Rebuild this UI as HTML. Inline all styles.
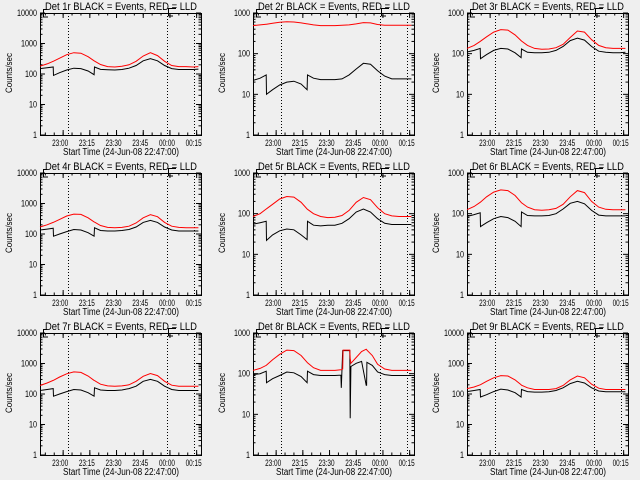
<!DOCTYPE html>
<html><head><meta charset="utf-8"><style>
html,body{margin:0;padding:0;background:#efefef;}
svg{display:block;font-family:"Liberation Sans",sans-serif;}
</style></head><body>
<svg id="c" width="640" height="480" viewBox="0 0 640 480"></svg>
<script>
const detNames = ["1r","2r","3r","4r","5r","6r","7r","8r","9r"];
const decades = [4,3,3,4,3,3,4,3,4];
const timeTicks = ["23:00","23:15","23:30","23:45","00:00","00:15"];
const timeTickMin = [13,28,43,58,73,88];
const dottedMin = [15.7,71.5,86.5];
const tStd = [0,4,7.4,7.6,11,15,19,23,27,30.4,30.6,34,38,42,46,50,54,58,62,66,70,74,78,82,86,89];
const t8 = [0,4,7.4,7.6,11,15,19,23,27,30.4,30.6,34,38,42,46,49.4,49.6,50.4,50.6,54.4,54.6,55,58,61,63.6,63.8,64,67,70,74,78,82,86,89];
const red1 = [180,215,260,262,330,430,500,480,370,270,265,205,175,170,180,200,260,390,500,400,260,190,175,175,170,175];
const blk1 = [150,160,170,90,110,135,155,150,125,95,170,142,138,135,140,155,190,270,320,270,190,150,140,140,140,145];
const red2 = [490,510,530,530,560,590,610,600,570,540,540,510,490,490,490,500,510,540,580,570,520,500,500,500,500,500];
const blk2 = [22,25,30,10,13,17,20,21,18,13,30,25,23,23,23,24,30,42,58,55,38,28,24,24,24,24];
const red3 = [135,160,200,202,260,340,390,380,290,210,205,160,135,128,130,140,170,250,360,340,220,160,140,135,135,135];
const blk3 = [110,120,135,75,95,120,135,130,105,80,130,108,105,105,108,120,150,210,240,215,150,115,108,105,105,108];
const red4 = [170,200,240,242,300,390,450,440,340,250,245,190,165,160,165,180,230,340,430,370,240,180,165,160,160,160];
const blk4 = [135,145,155,85,100,120,140,135,110,85,160,130,125,125,130,140,170,240,280,240,170,135,125,125,125,125];
const red5 = [85,100,130,132,170,230,265,255,190,130,128,100,85,80,82,90,120,190,250,220,140,100,88,85,85,85];
const blk5 = [55,60,65,22,30,38,42,40,30,23,65,52,50,52,52,58,75,110,130,110,75,58,54,54,54,54];
const red6 = [125,150,190,192,260,340,385,370,280,190,185,145,125,122,125,135,170,260,370,330,200,145,128,125,125,125];
const blk6 = [85,95,105,48,60,75,85,80,65,48,110,90,88,88,90,100,130,180,200,175,120,92,88,88,88,88];
const red7 = [190,230,280,282,360,460,530,510,390,280,275,210,185,180,185,200,260,380,470,400,260,195,180,180,180,180];
const blk7 = [130,140,150,85,100,120,140,135,110,85,160,135,130,130,135,150,180,260,300,260,180,140,130,130,130,130];
const red8 = [120,135,160,162,220,300,380,370,280,190,185,140,120,120,120,125,125,130,380,380,240,180,250,350,400,390,380,280,170,130,120,120,120,120];
const blk8 = [95,100,115,60,75,90,110,105,85,60,115,95,90,90,90,92,45,370,370,370,8,150,180,200,52,52,190,160,110,95,90,90,90,90];
const red9 = [150,170,200,202,260,340,400,390,290,200,195,160,140,140,140,150,190,290,390,340,210,155,140,140,140,140];
const blk9 = [120,130,140,80,95,120,145,135,110,80,140,120,115,115,118,130,160,220,260,230,160,125,118,118,118,118];
const reds = [red1,red2,red3,red4,red5,red6,red7,red8,red9];
const blks = [blk1,blk2,blk3,blk4,blk5,blk6,blk7,blk8,blk9];
const times = [tStd,tStd,tStd,tStd,tStd,tStd,tStd,t8,tStd];

const NS="http://www.w3.org/2000/svg";
const svg=document.getElementById('c');
function mk(tag,attrs,parent){const e=document.createElementNS(NS,tag);for(const k in attrs)e.setAttribute(k,attrs[k]);parent.appendChild(e);return e;}
const X0=40,X1=201,Y0=13,Y1=135;
function xs(m){return X0+m*1.78;}
for(let p=0;p<9;p++){
  const ox=[0,213,427][p%3], oy=Math.floor(p/3)*160;
  const g=mk('g',{transform:`translate(${ox},${oy})`},svg);
  
  
  const nd=decades[p];
  const ys=v=>Y1-(Math.log10(v)/nd)*(Y1-Y0);
  const title=mk('text',{x:45,y:10,'font-size':11,textLength:152,lengthAdjust:'spacingAndGlyphs'},g);
  title.textContent='Det '+detNames[p]+' BLACK = Events, RED = LLD';
  
  
  const frame=mk('rect',{x:X0+0.5,y:Y0+0.5,width:X1-X0,height:Y1-Y0,fill:'none',stroke:'#000','stroke-width':1},g);
  
  
  for(let d=0;d<=nd;d++){
    const y=ys(Math.pow(10,d));
    mk('line',{x1:X0,x2:X0+5,y1:y,y2:y,stroke:'#000'},g);
    mk('line',{x1:X1-5,x2:X1,y1:y,y2:y,stroke:'#000'},g);
    const s=String(Math.pow(10,d));
    const tl=mk('text',{x:37,y:y+3,'font-size':9,'text-anchor':'end',textLength:s.length*4,lengthAdjust:'spacingAndGlyphs'},g);
    tl.textContent=s;
    
    
    if(d<nd)for(let k=2;k<10;k++){const yy=ys(k*Math.pow(10,d));
      mk('line',{x1:X0,x2:X0+2.5,y1:yy,y2:yy,stroke:'#000'},g);
      mk('line',{x1:X1-2.5,x2:X1,y1:yy,y2:yy,stroke:'#000'},g);}
  }
  for(let m=3;m<=90;m+=5){const x=xs(m);
    mk('line',{x1:x,x2:x,y1:Y1,y2:Y1-2.5,stroke:'#000'},g);
    mk('line',{x1:x,x2:x,y1:Y0,y2:Y0+2.5,stroke:'#000'},g);}
  timeTicks.forEach((lab,i)=>{const x=xs(timeTickMin[i]);
    mk('line',{x1:x,x2:x,y1:Y1,y2:Y1-5,stroke:'#000'},g);
    mk('line',{x1:x,x2:x,y1:Y0,y2:Y0+5,stroke:'#000'},g);
    const tl=mk('text',{x:x-11,y:146,'font-size':9,textLength:16,lengthAdjust:'spacingAndGlyphs'},g);
    tl.textContent=lab;
    
    });
  const xt=mk('text',{x:63,y:155,'font-size':10,textLength:116,lengthAdjust:'spacingAndGlyphs'},g);
  xt.textContent='Start Time (24-Jun-08 22:47:00)';
  
  
  const yt=mk('text',{x:0,y:0,'font-size':9,'text-anchor':'middle',textLength:40,lengthAdjust:'spacingAndGlyphs',transform:'translate(12,73) rotate(-90)'},g);
  yt.textContent='Counts/sec';
  
  
  dottedMin.forEach(m=>{const x=Math.round(xs(m))+0.5;
    const l=mk('line',{x1:x,x2:x,y1:Y0,y2:Y1,stroke:'#000','stroke-dasharray':'1,2'},g);
    
    });
  mk('path',{d:'M43.5,9 V17 H48 M43.5,9.5 H47',fill:'none',stroke:'#000'},g);
  mk('path',{d:'M168.5,16 V8.5 H176 M168.5,16 H173',fill:'none',stroke:'#000'},g);
  const tt=times[p];
  const pts=a=>a.map((v,i)=>xs(tt[i]).toFixed(1)+','+ys(v).toFixed(1)).join(' ');
  const bl=mk('polyline',{points:pts(blks[p]),fill:'none',stroke:'#000','stroke-width':1},g);
  
  
  const rl=mk('polyline',{points:pts(reds[p]),fill:'none',stroke:'#ff0000','stroke-width':1},g);
  
  
}
</script>
</body></html>
